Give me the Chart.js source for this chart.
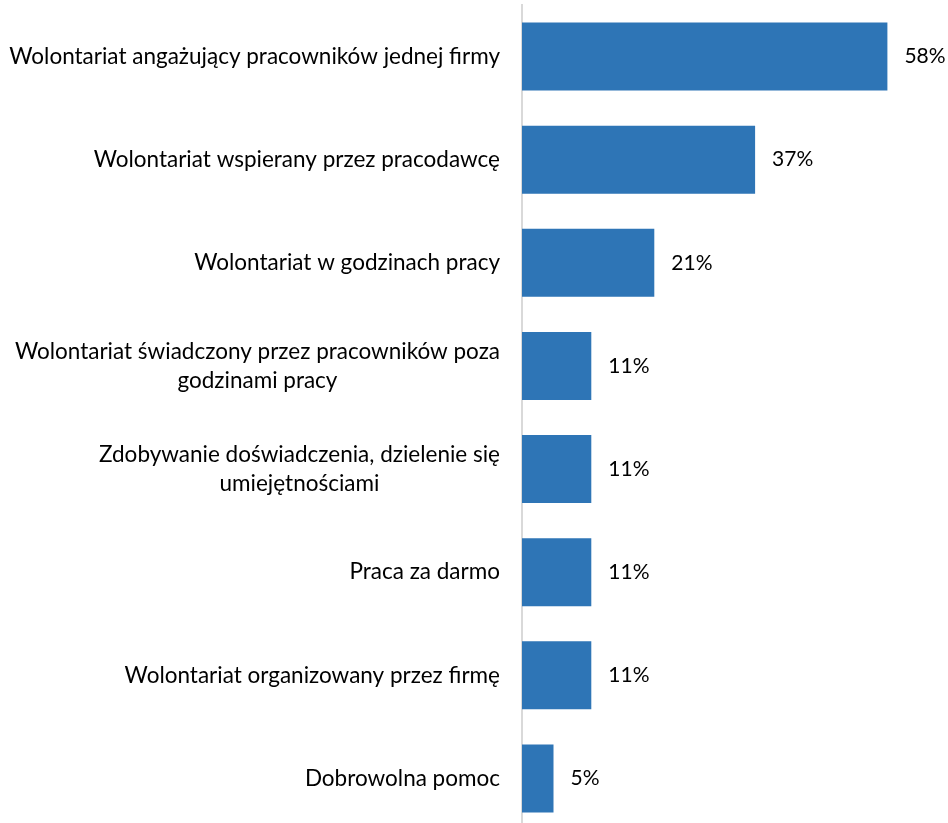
<!DOCTYPE html>
<html>
<head>
<meta charset="utf-8">
<script src="https://cdn.jsdelivr.net/npm/chart.js@4.4.1/dist/chart.umd.min.js"></script>
<style>
  html, body { margin: 0; padding: 0; background: #ffffff; overflow: hidden; }
  #wrap { width: 948px; height: 830px; }
</style>
</head>
<body>
<div id="wrap"><canvas id="chart" width="948" height="830"></canvas></div>
<script>
// Category labels (multi-line entries are arrays of lines)
const categories = [
  'Wolontariat angażujący pracowników jednej firmy',
  'Wolontariat wspierany przez pracodawcę',
  'Wolontariat w godzinach pracy',
  ['Wolontariat świadczony przez pracowników poza', 'godzinami pracy'],
  ['Zdobywanie doświadczenia, dzielenie się', 'umiejętnościami'],
  'Praca za darmo',
  'Wolontariat organizowany przez firmę',
  'Dobrowolna pomoc'
];
// Share of responses, in percent
const values = [58, 37, 21, 11, 11, 11, 11, 5];

const FONT_FAMILY = 'Lato, "Open Sans", sans-serif';
const LABEL_SIZE = 22.5;
const VALUE_SIZE = 21;
const LINE_HEIGHT = 29;

// Draws the category names to the left of the axis, block right-aligned,
// lines centred within each block.
const categoryLabels = {
  id: 'categoryLabels',
  afterDraw(chart) {
    const ctx = chart.ctx;
    const yScale = chart.scales.y;
    const right = chart.chartArea.left - 22;
    ctx.save();
    ctx.font = LABEL_SIZE + 'px ' + FONT_FAMILY;
    ctx.fillStyle = '#000000';
    ctx.textBaseline = 'middle';
    ctx.textAlign = 'center';
    categories.forEach((label, i) => {
      const lines = Array.isArray(label) ? label : [label];
      const w = Math.max(...lines.map(l => ctx.measureText(l).width));
      const cx = right - w / 2;
      const yc = yScale.getPixelForValue(i);
      const y0 = yc - (lines.length - 1) * LINE_HEIGHT / 2;
      lines.forEach((l, k) => ctx.fillText(l, cx, y0 + k * LINE_HEIGHT));
    });
    ctx.restore();
  }
};

// Value labels at the end of each bar
const valueLabels = {
  id: 'valueLabels',
  afterDatasetsDraw(chart) {
    const ctx = chart.ctx;
    const meta = chart.getDatasetMeta(0);
    ctx.save();
    ctx.font = VALUE_SIZE + 'px ' + FONT_FAMILY;
    ctx.fillStyle = '#000000';
    ctx.textBaseline = 'middle';
    ctx.textAlign = 'left';
    meta.data.forEach((bar, i) => {
      ctx.fillText(values[i] + '%', bar.x + 17, bar.y);
    });
    ctx.restore();
  }
};

new Chart(document.getElementById('chart'), {
  type: 'bar',
  data: {
    labels: categories,
    datasets: [{
      data: values,
      backgroundColor: '#2E75B6',
      borderWidth: 0,
      barPercentage: 0.66,
      categoryPercentage: 1.0
    }]
  },
  options: {
    indexAxis: 'y',
    responsive: false,
    animation: false,
    events: [],
    layout: { padding: { top: 5, right: 48, bottom: 0, left: 0 } },
    plugins: {
      legend: { display: false },
      tooltip: { enabled: false }
    },
    scales: {
      x: {
        display: false,
        min: 0,
        max: 60
      },
      y: {
        position: 'left',
        grid: { display: false, drawTicks: false },
        border: { display: true, color: '#d9d9d9', width: 2 },
        ticks: { display: false },
        afterFit(scale) { scale.width = 522; }
      }
    }
  },
  plugins: [categoryLabels, valueLabels]
});
</script>
</body>
</html>
